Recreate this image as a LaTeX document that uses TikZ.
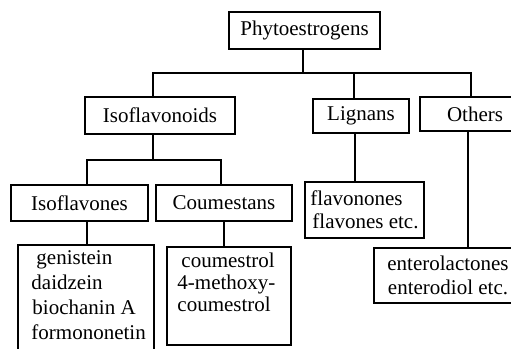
\documentclass[tikz,border=0pt]{standalone}
\usepackage{fontspec}
\setmainfont{Liberation Serif}
\begin{document}
\begin{tikzpicture}[x=1pt,y=-1pt,
  box/.style={draw, line width=1.5pt, inner sep=0pt, minimum width=#1},
  txt/.style={font=\fontsize{21}{23.5}\selectfont},
  list/.style={txt, align=left, inner sep=0pt, anchor=north west},
  conn/.style={line width=1.5pt}]
\clip (0,0) rectangle (511,348);
\fill[white] (0,0) rectangle (511,348);
% level 0
\node[box=151, minimum height=37, txt] (P) at (304.5,30.5) {Phytoestrogens};
% level 1
\node[box=150, minimum height=37, txt] (Iso) at (160,115.5) {Isoflavonoids};
\node[box=96, minimum height=34, txt] (Lig) at (361,116) {Lignans};
\node[box=110, minimum height=34, txt] (Oth) at (475,114) {Others\hspace{22pt}};
% level 2
\node[box=137, minimum height=36, txt] (Ifl) at (79.5,203) {Isoflavones};
\node[box=136, minimum height=36, txt] (Cou) at (224,203) {Coumestans};
\node[box=119, minimum height=56, txt, align=left] (Fla) at (364.5,210) {flavonones\\\hspace{2pt}flavones etc.};
\node[box=156, minimum height=55, txt, align=center] (Ent) at (452,275.5) {enterolactones\hspace*{8pt}\\enterodiol etc.\hspace*{8pt}};
% level 3
\node[box=136, minimum height=115] (Gen) at (86,302.5) {};
\node[list, font=\fontsize{21}{25}\selectfont] (GenT) at ([shift={(14,6)}]Gen.north west) {\hspace{5pt}genistein\\daidzein\\\hspace{1pt}biochanin A\\formononetin};
\node[box=124, minimum height=98] (Cmt) at (229,296) {};
\node[list, font=\fontsize{21}{22}\selectfont] (CmtT) at ([shift={(11,6)}]Cmt.north west) {\hspace{4pt}coumestrol\\4-methoxy-\\coumestrol};
% connectors
\coordinate (bus1) at (303,73);
\coordinate (bus2) at (153,160);
\draw[conn] (P.south -| bus1) -- (bus1);
\draw[conn] (Iso.north -| bus2) |- (bus1);
\draw[conn] (Lig.north -| 354,0) |- (bus1);
\draw[conn] (Oth.north -| 471,0) |- (bus1);
\draw[conn] (Iso.south -| bus2) -- (bus2);
\draw[conn] (Ifl.north -| 87,0) |- (bus2);
\draw[conn] (Cou.north -| 221,0) |- (bus2);
\draw[conn] (Ifl.south -| 87,0) -- (Gen.north -| 87,0);
\draw[conn] (Cou.south -| 224,0) -- (Cmt.north -| 224,0);
\draw[conn] (Lig.south -| 355,0) -- (Fla.north -| 355,0);
\draw[conn] (Oth.south -| 468,0) -- (Ent.north -| 468,0);
\end{tikzpicture}
\end{document}
